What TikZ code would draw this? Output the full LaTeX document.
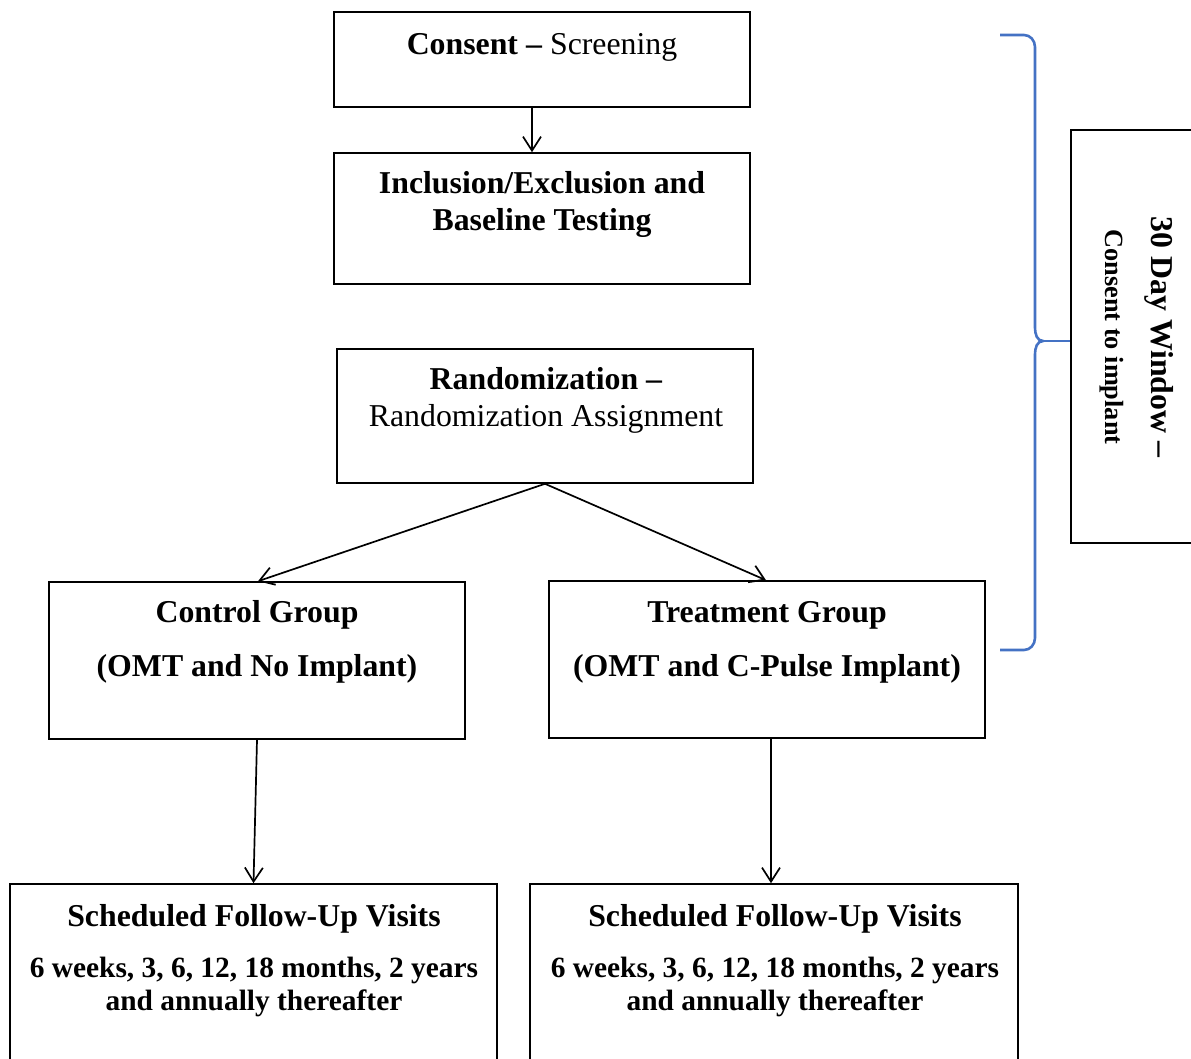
\documentclass[tikz,border=0pt]{standalone}
\usepackage{fontspec}
\setmainfont{Liberation Serif}
\usetikzlibrary{arrows.meta}
\definecolor{braceblue}{RGB}{68,114,196}
\tikzset{
  box/.style={draw=black, line width=1.6pt, rectangle, inner sep=0pt},
  txt/.style={inner sep=0pt, align=center, font=\fontsize{31.8}{37}\selectfont},
  small/.style={inner sep=0pt, align=center, font=\fontsize{29.4}{33}\selectfont\bfseries},
  arr/.style={line width=1.7pt, -{Straight Barb[length=14pt,width=18pt,line width=1.7pt]}},
  bracepath/.style={draw=braceblue, line width=2.6pt}
}
\begin{document}
\begin{tikzpicture}[x=1pt,y=-1pt]
\useasboundingbox (0,0) rectangle (1191,1059);
% boxes
\node[box, minimum width=416pt, minimum height=95pt] (consent) at (542,59.5) {};
\node[box, minimum width=416pt, minimum height=131pt] (incl) at (542,218.5) {};
\node[box, minimum width=416pt, minimum height=134pt] (rand) at (545,416) {};
\node[box, minimum width=416pt, minimum height=157pt] (ctrl) at (257,660.5) {};
\node[box, minimum width=436pt, minimum height=157pt] (treat) at (767,659.5) {};
\node[box, minimum width=487pt, minimum height=206pt] (fuL) at (253.5,987) {};
\node[box, minimum width=488pt, minimum height=206pt] (fuR) at (774,987) {};
\node[box, minimum width=140pt, minimum height=413pt] (rbox) at (1141,336.5) {};
% texts
\node[txt] (t1) at (542,47) {\textbf{Consent –} Screening};
\node[txt, font=\fontsize{31.8}{37}\selectfont\bfseries] (t2) at (542,204) {Inclusion/Exclusion and\\Baseline Testing};
\node[txt] (t3) at (546,400) {\textbf{Randomization –}\\Randomization Assignment};
\node[txt, font=\fontsize{31.8}{54}\selectfont\bfseries] (t4) at (257,642) {Control Group\\(OMT and No Implant)};
\node[txt, font=\fontsize{31.8}{54}\selectfont\bfseries] (t5) at (767,642) {Treatment Group\\(OMT and C-Pulse Implant)};
\node[txt, font=\fontsize{31.8}{37}\selectfont\bfseries] (t6) at (254,919) {Scheduled Follow-Up Visits};
\node[small] (t7) at (254,987) {6 weeks, 3, 6, 12, 18 months, 2 years\\and annually thereafter};
\node[txt, font=\fontsize{31.8}{37}\selectfont\bfseries] (t8) at (775,919) {Scheduled Follow-Up Visits};
\node[small] (t9) at (775,987) {6 weeks, 3, 6, 12, 18 months, 2 years\\and annually thereafter};
\node[inner sep=0pt, align=center, rotate=-90, font=\bfseries] (t10) at (1137,337)
  {{\fontsize{31.8}{37}\selectfont 30 Day Window –}\\[20pt]{\fontsize{26.3}{30}\selectfont Consent to implant}};
% connectors
\draw[arr] ([xshift=-10pt]consent.south) -- ([xshift=-10pt]incl.north);
\draw[arr] (rand.south) -- ([xshift=1pt]ctrl.north);
\draw[arr] (rand.south) -- ([xshift=-1pt]treat.north);
\draw[arr] (ctrl.south) -- (fuL.north);
\draw[arr] ([xshift=4pt]treat.south) -- ([xshift=-3pt]fuR.north);
% brace
\draw[bracepath] (1000,35) -- (1024,35) to[out=0,in=90] (1035,47) -- (1035,328)
  to[out=-90,in=180] (1043,341) to[out=180,in=90] (1035,354) -- (1035,638)
  to[out=-90,in=0] (1024,650) -- (1000,650);
\draw[bracepath] (1043,341) -- ([yshift=-4.5pt]rbox.west);
\end{tikzpicture}
\end{document}
